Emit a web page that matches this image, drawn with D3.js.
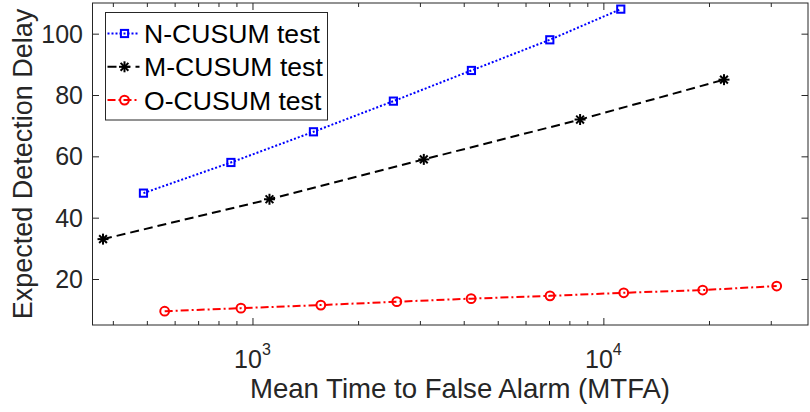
<!DOCTYPE html>
<html>
<head>
<meta charset="utf-8">
<script src="https://cdn.jsdelivr.net/npm/d3@7"></script>
<style>
  html, body { margin: 0; padding: 0; background: #fff; }
  svg { display: block; font-family: "Liberation Sans", Arial, sans-serif; }
</style>
</head>
<body>
<svg id="chart" width="810" height="412"></svg>
<script>
// Detection delay versus mean time to false alarm for three CUSUM variants
const nCusumMTFA  = [489, 868, 1492, 2521, 4207, 7036, 11210];
const nCusumDelay = [48, 58, 68, 78, 88, 98, 108];

const mCusumMTFA  = [375, 1118, 3078, 8583, 22070];
const mCusumDelay = [33, 46, 59, 72, 85];

const oCusumMTFA  = [562, 927, 1566, 2578, 4198, 7046, 11430, 19190, 31190];
const oCusumDelay = [9.5, 10.5, 11.5, 12.6, 13.6, 14.5, 15.5, 16.4, 17.7];

const seriesNames = ["N-CUSUM test", "M-CUSUM test", "O-CUSUM test"];
const xMajorTicks = [1e3, 1e4];
const xMajorExponents = ["3", "4"];
const xMinorTicks = [400, 500, 600, 700, 800, 900, 2000, 3000, 4000, 5000, 6000, 7000, 8000, 9000, 20000, 30000];
const yTicks = [20, 40, 60, 80, 100];
const xDomain = [350, 38300];
const yDomain = [5, 110];

const axisColor = "#262626";
const margin = { left: 92.5, top: 3, right: 2, bottom: 87 };
const W = 810, H = 412;
const iw = W - margin.left - margin.right;
const ih = H - margin.top - margin.bottom;

const svg = d3.select("#chart");
const g = svg.append("g").attr("transform", `translate(${margin.left},${margin.top})`);

const x = d3.scaleLog().domain(xDomain).range([0, iw]);
const y = d3.scaleLinear().domain(yDomain).range([ih, 0]);

// Plot background
g.append("rect").attr("width", iw).attr("height", ih).attr("fill", "#fff");

function styleAxis(sel) {
  sel.select(".domain").remove();
  sel.selectAll(".tick line").attr("stroke", axisColor).attr("stroke-width", 1);
  sel.selectAll(".tick text").remove();
}

// Bottom and top ticks, pointing into the plot
g.append("g").attr("transform", `translate(0,${ih})`)
  .call(d3.axisBottom(x).tickValues(xMajorTicks).tickSize(-7).tickFormat(""))
  .call(styleAxis);
g.append("g").attr("transform", `translate(0,${ih})`)
  .call(d3.axisBottom(x).tickValues(xMinorTicks).tickSize(-4).tickFormat(""))
  .call(styleAxis);
g.append("g")
  .call(d3.axisTop(x).tickValues(xMajorTicks).tickSize(-7).tickFormat(""))
  .call(styleAxis);
g.append("g")
  .call(d3.axisTop(x).tickValues(xMinorTicks).tickSize(-4).tickFormat(""))
  .call(styleAxis);

// Left and right ticks
g.append("g")
  .call(d3.axisLeft(y).tickValues(yTicks).tickSize(-6.5).tickFormat(""))
  .call(styleAxis);
g.append("g").attr("transform", `translate(${iw},0)`)
  .call(d3.axisRight(y).tickValues(yTicks).tickSize(-6.5).tickFormat(""))
  .call(styleAxis);

// Box
g.append("rect").attr("width", iw).attr("height", ih)
  .attr("fill", "none").attr("stroke", axisColor).attr("stroke-width", 1);

// Y tick labels
g.append("g").selectAll("text").data(yTicks).join("text")
  .attr("x", -9.5).attr("y", d => y(d)).attr("dy", "0.36em")
  .attr("text-anchor", "end").attr("font-size", 25).attr("fill", axisColor)
  .text(d => d);

// X tick labels as powers of ten
const xl = g.append("g").selectAll("text").data(xMajorTicks).join("text")
  .attr("x", d => x(d)).attr("y", ih + 42.7)
  .attr("text-anchor", "middle").attr("font-size", 25).attr("fill", axisColor);
xl.append("tspan").text("10");
xl.append("tspan").attr("dy", -12.5).attr("font-size", 16).text((d, i) => xMajorExponents[i]);

// Axis titles
svg.append("text")
  .attr("x", 460).attr("y", 397.5)
  .attr("text-anchor", "middle").attr("font-size", 27.6).attr("fill", axisColor)
  .text("Mean Time to False Alarm (MTFA)");
svg.append("text")
  .attr("transform", `translate(31.5,${margin.top + ih / 2}) rotate(-90)`)
  .attr("text-anchor", "middle").attr("font-size", 27).attr("fill", axisColor)
  .text("Expected Detection Delay");

// Marker drawers
function drawSquare(sel, color) {
  sel.append("rect").attr("x", -3.6).attr("y", -3.6).attr("width", 7.2).attr("height", 7.2)
    .attr("fill", "none").attr("stroke", color).attr("stroke-width", 2);
}
function drawStar(sel, color) {
  const r = 5.5, d = r * Math.SQRT1_2;
  const segs = [[-r, 0, r, 0], [0, -r, 0, r], [-d, -d, d, d], [-d, d, d, -d]];
  segs.forEach(s => sel.append("line")
    .attr("x1", s[0]).attr("y1", s[1]).attr("x2", s[2]).attr("y2", s[3])
    .attr("stroke", color).attr("stroke-width", 2));
}
function drawCircle(sel, color) {
  sel.append("circle").attr("r", 4.4)
    .attr("fill", "none").attr("stroke", color).attr("stroke-width", 2);
}

const series = [
  { name: seriesNames[0], xs: nCusumMTFA, ys: nCusumDelay, color: "#0000ff", dash: "2,2", marker: drawSquare },
  { name: seriesNames[1], xs: mCusumMTFA, ys: mCusumDelay, color: "#000000", dash: "9,5", marker: drawStar },
  { name: seriesNames[2], xs: oCusumMTFA, ys: oCusumDelay, color: "#ff0000", dash: "8,3,2,3", marker: drawCircle }
];

const line = d3.line().x(d => x(d[0])).y(d => y(d[1]));

series.forEach(s => {
  const pts = s.xs.map((v, i) => [v, s.ys[i]]);
  g.append("path").datum(pts).attr("d", line)
    .attr("fill", "none").attr("stroke", s.color).attr("stroke-width", 2)
    .attr("stroke-dasharray", s.dash);
  g.append("g").selectAll("g").data(pts).join("g")
    .attr("transform", d => `translate(${x(d[0])},${y(d[1])})`)
    .each(function () { s.marker(d3.select(this), s.color); });
});

// Legend
const lg = svg.append("g").attr("transform", "translate(105.5,12.5)");
lg.append("rect").attr("width", 222).attr("height", 107.5)
  .attr("fill", "#fff").attr("stroke", axisColor).attr("stroke-width", 1);
series.forEach((s, i) => {
  const cy = 21 + i * 33.3;
  lg.append("line").attr("x1", 2).attr("x2", 34).attr("y1", cy).attr("y2", cy)
    .attr("stroke", s.color).attr("stroke-width", 2).attr("stroke-dasharray", s.dash);
  const m = lg.append("g").attr("transform", `translate(19,${cy})`);
  s.marker(m, s.color);
  lg.append("text").attr("x", 38.5).attr("y", cy).attr("dy", "0.36em")
    .attr("font-size", 26.6).attr("fill", "#000").text(s.name);
});
</script>
</body>
</html>
